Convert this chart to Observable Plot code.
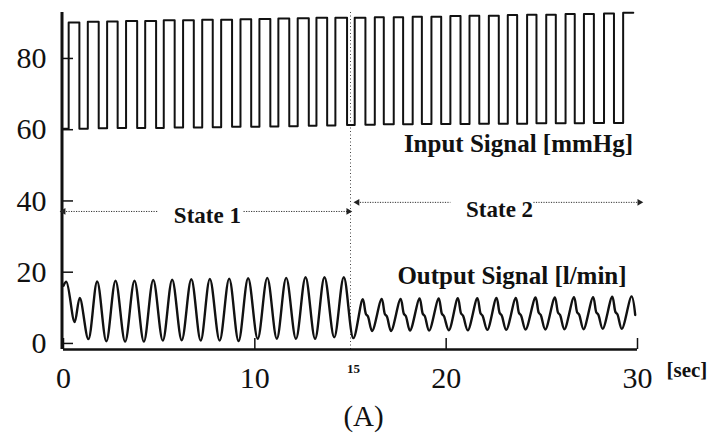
<!DOCTYPE html>
<html><head><meta charset="utf-8">
<script src="https://cdn.jsdelivr.net/npm/d3@7"></script>
<script src="https://cdn.jsdelivr.net/npm/@observablehq/plot@0.6"></script>
<style>
body{margin:0;background:#fff;}
#chart{width:710px;height:436px;}
</style></head><body><div id="chart"></div>
<script>
// ---- Input signal (square wave, mmHg): switching times (sec) and level after each switch
const inputTimes = [0, 0.27, 0.83, 1.27, 1.84, 2.28, 2.83, 3.27, 3.85, 4.27, 4.84, 5.24, 5.81, 6.25, 6.81, 7.25, 7.80, 8.24, 8.81, 9.25, 9.81, 10.24, 10.81, 11.23, 11.80, 12.24, 12.82, 13.22, 13.78, 14.21, 14.82,
  15.22, 15.78, 16.27, 16.74, 17.26, 17.75, 18.25, 18.73, 19.23, 19.74, 20.22, 20.75, 21.22, 21.73, 22.23, 22.75, 23.22, 23.71, 24.23, 24.72, 25.23, 25.73, 26.24, 26.72, 27.20, 27.72, 28.25, 28.77, 29.25, 29.78];
const inputLevels = [60.3, 90.1, 60.3, 90.3, 60.4, 90.4, 60.5, 90.5, 60.5, 90.5, 60.5, 90.7, 60.6, 90.7, 60.6, 90.9, 60.7, 90.9, 60.8, 91.0, 60.8, 91.1, 60.9, 91.2, 61.0, 91.3, 61.1, 91.4, 61.2, 91.4, 61.3,
  91.4, 61.4, 91.6, 61.5, 91.6, 61.5, 91.7, 61.6, 91.7, 61.6, 91.9, 61.6, 92.0, 61.7, 92.0, 61.7, 92.2, 61.7, 92.3, 61.8, 92.3, 61.8, 92.5, 61.8, 92.5, 61.9, 92.6, 61.9, 92.8, 92.8];

// ---- Output signal (l/min): key points
const outputTimes = [0, 0.15, 0.58, 0.85, 1.30, 1.76, 2.24, 2.72, 3.22, 3.71, 4.20, 4.69, 5.19, 5.68, 6.18, 6.68, 7.17, 7.65, 8.16, 8.66, 9.15, 9.65, 10.15, 10.65, 11.15, 11.64, 12.15, 12.65, 13.15, 13.64, 14.15, 14.65, 15.15,
  15.64, 15.81, 15.91, 16.13, 16.63, 16.80, 16.90, 17.12, 17.62, 17.79, 17.89, 18.11, 18.61, 18.78, 18.88, 19.11, 19.61, 19.78, 19.88, 20.14, 20.61, 20.78, 20.88, 21.13, 21.63, 21.80, 21.90, 22.15, 22.63, 22.80, 22.90, 23.14,
  23.64, 23.81, 23.91, 24.15, 24.67, 24.84, 24.94, 25.18, 25.68, 25.85, 25.95, 26.18, 26.68, 26.85, 26.95, 27.18, 27.68, 27.85, 27.95, 28.18, 28.68, 28.85, 28.95, 29.18, 29.69, 29.88];
const outputValues = [16.2, 17.3, 6.0, 12.8, 1.2, 17.4, 0.6, 17.6, 0.5, 17.6, 0.5, 17.8, 0.8, 17.9, 0.9, 18.0, 0.8, 18.1, 0.8, 18.2, 0.7, 18.3, 1.3, 18.4, 1.3, 18.4, 1.3, 18.6, 1.3, 18.6, 1.7, 18.6, 1.5,
  12.4, 8.2, 7.6, 3.5, 12.5, 8.2, 7.6, 3.5, 12.5, 8.3, 7.7, 3.6, 12.6, 8.3, 7.7, 3.6, 12.6, 8.3, 7.7, 3.7, 12.7, 8.4, 7.8, 3.7, 12.7, 8.4, 7.8, 3.8, 12.8, 8.5, 7.9, 3.8,
  12.8, 8.5, 7.9, 3.9, 12.9, 8.6, 8.0, 3.9, 12.9, 8.6, 8.0, 4.0, 13.0, 8.7, 8.1, 4.0, 13.0, 8.7, 8.1, 4.1, 13.1, 8.8, 8.2, 4.1, 13.2, 8.0];

// ---- Axes
const xTicks = [0, 10, 20, 30];
const yTicks = [0, 20, 40, 60, 80];
const stateBoundary = [15];

// ---- Annotations
const seriesLabels = ["Input Signal [mmHg]", "Output Signal [l/min]"];
const seriesLabelX = [23.78, 23.44];
const seriesLabelY = [56.1, 18.8];
const stateNames = ["State 1", "State 2"];
const stateLabelX = [7.52, 22.79];
const stateLabelY = [36.0, 37.7];
const stateStart = [0, 15.36];
const stateEnd = [14.89, 30.1];
const stateGapStart = [4.91, 20.22];
const stateGapEnd = [9.41, 24.56];
const stateArrowY = [37.05, 39.6];

const inputData = inputTimes.map((t, i) => ({t, v: inputLevels[i]}));
const outputData = outputTimes.map((t, i) => ({t, v: outputValues[i]}));
const shafts = stateNames.flatMap((s, i) => [
  {x1: stateStart[i], x2: stateGapStart[i], y: stateArrowY[i]},
  {x1: stateGapEnd[i], x2: stateEnd[i], y: stateArrowY[i]}
]);
const heads = stateNames.flatMap((s, i) => [
  {x: stateStart[i], y: stateArrowY[i], rot: -90},
  {x: stateEnd[i], y: stateArrowY[i], rot: 90}
]);
const serif = "'Liberation Serif', 'Times New Roman', serif";

const chart = Plot.plot({
  width: 710, height: 436,
  marginLeft: 63, marginRight: 73, marginTop: 12, marginBottom: 87,
  x: {domain: [0, 30]},
  y: {domain: [-1.7, 92.9]},
  style: {fontFamily: serif, background: "#fff", color: "#111", overflow: "visible"},
  marks: [
    Plot.ruleX(stateBoundary, {stroke: "#444", strokeWidth: 1, strokeDasharray: "1,2.5"}),
    Plot.axisY({ticks: yTicks, tickSize: -10, tickPadding: 27, fontSize: 30, label: null, stroke: "#111", strokeWidth: 1.5}),
    Plot.axisX({ticks: xTicks, tickSize: -11, tickPadding: 28, fontSize: 30, label: null, stroke: "#111", strokeWidth: 1.5}),
    Plot.ruleX([0], {stroke: "#111", strokeWidth: 3, dx: -1.5}),
    Plot.ruleY([-1.7], {stroke: "#111", strokeWidth: 2.5}),
    Plot.line(inputData, {x: "t", y: "v", curve: "step-after", stroke: "#111", strokeWidth: 2}),
    Plot.line(outputData, {x: "t", y: "v", curve: "catmull-rom", stroke: "#111", strokeWidth: 2.4}),
    Plot.link(shafts, {x1: "x1", x2: "x2", y1: "y", y2: "y", stroke: "#333", strokeWidth: 1, strokeDasharray: "1.2,1.3"}),
    Plot.dot(heads, {x: "x", y: "y", symbol: "triangle2", rotate: "rot", r: 3.2, fill: "#222", stroke: null, dx: 0}),
    Plot.text(stateNames, {x: (d, i) => stateLabelX[i], y: (d, i) => stateLabelY[i], text: d => d, fontSize: 23, fontWeight: "bold", fill: "#111"}),
    Plot.text(seriesLabels, {x: (d, i) => seriesLabelX[i], y: (d, i) => seriesLabelY[i], text: d => d, fontSize: 25, fontWeight: "bold", fill: "#111"}),
    Plot.text(stateBoundary, {x: d => d, frameAnchor: "bottom", text: d => String(d), dx: 3, dy: 23, fontSize: 13, fontWeight: "bold", fill: "#111"}),
    Plot.text(["[sec]"], {x: 30, frameAnchor: "bottom", text: d => d, textAnchor: "start", dx: 29, dy: 27, fontSize: 21, fontWeight: "bold", fill: "#111"}),
    Plot.text(["(A)"], {x: 15.68, frameAnchor: "bottom", text: d => d, dy: 76, fontSize: 29, fill: "#111"})
  ]
});
document.getElementById("chart").appendChild(chart);
</script>
</body></html>
